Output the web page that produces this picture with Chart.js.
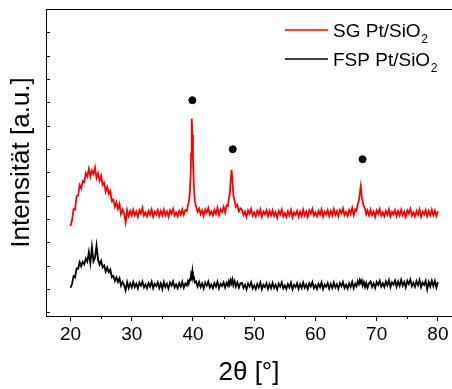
<!DOCTYPE html>
<html><head><meta charset="utf-8">
<script src="https://cdn.jsdelivr.net/npm/chart.js@4/dist/chart.umd.min.js"></script>
<style>html,body{margin:0;padding:0;background:#fff;}</style>
</head><body>
<canvas id="c" width="452" height="389"></canvas>
<script>
const twoTheta = [
 // 20 - 39
 20,20.25,20.5,20.75,21,21.25,21.5,21.75,22,22.25,22.5,22.75,23,23.25,23.5,23.75,24,24.25,24.5,24.75,
 25,25.25,25.5,25.75,26,26.25,26.5,26.75,27,27.25,27.5,27.75,28,28.25,28.5,28.75,29,
 29.25,29.5,29.75,30,30.25,30.5,30.75,31,31.25,31.5,31.75,32,32.25,32.5,32.75,33,33.25,33.5,33.75,34,
 34.25,34.5,34.75,35,35.25,35.5,35.75,36,36.25,36.5,36.75,37,37.25,37.5,37.75,38,38.25,38.5,38.75,39,
 // Pt(111)
 39.15,39.3,39.45,39.6,39.7,39.8,39.9,40,40.15,40.3,40.5,40.75,
 // 41 - 45.5
 41,41.25,41.5,41.75,42,42.25,42.5,42.75,43,43.25,43.5,43.75,44,44.25,44.5,44.75,45,45.25,45.5,
 // Pt(200)
 45.7,45.85,46,46.15,46.3,46.45,46.6,46.8,47,47.25,47.5,47.75,
 // 48 - 66.5
 48,48.25,48.5,48.75,49,49.25,49.5,49.75,50,50.25,50.5,50.75,51,51.25,51.5,51.75,52,52.25,52.5,52.75,
 53,53.25,53.5,53.75,54,54.25,54.5,54.75,55,55.25,55.5,55.75,56,56.25,56.5,56.75,57,57.25,57.5,57.75,
 58,58.25,58.5,58.75,59,59.25,59.5,59.75,60,60.25,60.5,60.75,61,61.25,61.5,61.75,62,62.25,62.5,62.75,
 63,63.25,63.5,63.75,64,64.25,64.5,64.75,65,65.25,65.5,65.75,66,66.25,66.5,
 // Pt(220)
 66.7,66.9,67.1,67.25,67.4,67.55,67.7,67.9,68.1,68.3,68.5,68.75,
 // 69 - 80
 69,69.25,69.5,69.75,70,70.25,70.5,70.75,71,71.25,71.5,71.75,72,72.25,72.5,72.75,73,73.25,73.5,73.75,
 74,74.25,74.5,74.75,75,75.25,75.5,75.75,76,76.25,76.5,76.75,77,77.25,77.5,77.75,78,78.25,78.5,78.75,
 79,79.25,79.5,79.75,80
];
const sgPtSiO2 = [
 3.70,3.93,4.42,4.40,4.98,5.01,5.45,5.31,5.62,5.57,5.96,5.82,6.15,5.81,6.08,5.93,6.21,5.75,5.95,5.64,
 5.85,5.46,5.55,5.16,5.37,5.08,5.20,4.76,4.82,4.52,4.72,4.43,4.64,4.21,4.41,4.23,3.85,
 4.38,4.12,4.34,4.15,4.40,4.16,4.32,4.09,4.37,4.23,4.48,4.14,4.28,4.11,4.35,4.18,4.41,4.10,4.31,4.20,
 4.38,4.12,4.34,4.15,4.40,4.16,4.32,4.09,4.37,4.23,4.43,4.14,4.28,4.11,4.35,4.18,4.41,4.18,4.38,4.34,
 4.55,4.70,5.00,5.70,6.80,8.30,7.60,6.60,5.40,4.75,4.55,4.30,
 4.44,4.20,4.36,4.13,4.41,4.27,4.47,4.18,4.32,4.15,4.39,4.22,4.48,4.17,4.41,4.30,4.52,4.28,4.58,
 4.55,4.85,5.05,5.60,6.10,5.65,5.00,4.80,4.52,4.60,4.32,4.45,
 4.40,4.16,4.32,4.09,4.37,4.23,4.43,4.14,4.28,4.11,4.35,4.18,4.41,4.10,4.31,4.20,4.38,4.12,4.34,4.15,
 4.37,4.13,4.29,4.06,4.34,4.20,4.40,4.11,4.25,4.08,4.32,4.15,4.38,4.07,4.28,4.17,4.35,4.09,4.31,4.12,
 4.40,4.16,4.32,4.09,4.37,4.23,4.43,4.14,4.28,4.11,4.35,4.18,4.41,4.10,4.31,4.20,4.38,4.12,4.34,4.15,
 4.42,4.18,4.34,4.11,4.39,4.25,4.45,4.16,4.30,4.13,4.39,4.22,4.47,4.16,4.41,
 4.35,4.62,4.80,5.10,5.40,5.00,4.75,4.55,4.45,4.20,4.36,4.15,
 4.40,4.16,4.32,4.09,4.37,4.23,4.43,4.14,4.28,4.11,4.35,4.18,4.41,4.10,4.31,4.20,4.38,4.12,4.34,4.15,
 4.40,4.16,4.32,4.09,4.37,4.23,4.43,4.14,4.28,4.11,4.35,4.18,4.41,4.10,4.31,4.20,4.38,4.12,4.34,4.15,
 4.40,4.16,4.36,4.12,4.33
];
const fspPtSiO2 = [
 1.05,1.21,1.55,1.50,1.88,1.87,2.15,1.97,2.16,2.05,2.30,2.17,2.58,2.11,2.80,2.19,2.34,2.86,2.25,2.04,
 2.21,1.93,2.01,1.74,1.92,1.72,1.83,1.50,1.56,1.34,1.50,1.30,1.46,1.14,1.30,1.17,0.94,
 1.29,1.04,1.24,1.07,1.30,1.08,1.22,1.02,1.27,1.14,1.32,1.06,1.19,1.03,1.25,1.10,1.31,1.03,1.22,1.12,
 1.28,1.04,1.24,0.99,1.30,1.08,1.22,1.02,1.27,1.14,1.32,1.06,1.19,1.03,1.25,1.10,1.31,1.05,1.23,1.15,
 1.32,1.22,1.40,1.38,1.62,1.52,1.75,1.45,1.50,1.28,1.32,1.10,
 1.30,1.08,1.24,1.02,1.27,1.14,1.32,1.06,1.19,1.03,1.25,1.10,1.31,1.03,1.22,1.12,1.28,1.06,1.26,
 1.14,1.32,1.18,1.38,1.24,1.40,1.16,1.33,1.10,1.28,1.06,1.24,
 1.26,1.04,1.18,0.98,1.23,1.10,1.28,1.02,1.15,0.99,1.21,1.06,1.27,0.99,1.18,1.08,1.24,1.00,1.20,1.03,
 1.26,1.04,1.18,0.98,1.23,1.10,1.28,1.02,1.15,0.99,1.21,1.06,1.27,0.99,1.18,1.08,1.24,1.00,1.20,1.03,
 1.27,1.05,1.19,0.99,1.24,1.11,1.29,1.03,1.16,1.00,1.22,1.07,1.28,1.00,1.19,1.09,1.25,1.01,1.21,1.04,
 1.28,1.06,1.20,1.00,1.25,1.12,1.30,1.04,1.18,1.02,1.24,1.09,1.30,1.03,1.22,
 1.12,1.33,1.20,1.38,1.26,1.36,1.14,1.30,1.08,1.26,1.05,1.24,
 1.32,1.08,1.24,1.04,1.30,1.17,1.35,1.10,1.24,1.08,1.32,1.15,1.38,1.08,1.28,1.18,1.36,1.10,1.32,1.13,
 1.39,1.14,1.30,1.07,1.35,1.21,1.41,1.12,1.26,1.09,1.33,1.16,1.38,1.07,1.28,1.17,1.35,0.98,1.30,1.10,
 1.36,1.12,1.34,1.06,1.30
];
const peakMarkX = [39.9, 46.5, 67.7];
const peakMarkY = [9.09, 6.99, 6.56];
const xMajorTicks = [20, 30, 40, 50, 60, 70, 80];
const xMinorTicks = [25, 35, 45, 55, 65, 75];
const yTicks = [0,1,2,3,4,5,6,7,8,9,10,11,12];
const seriesLabels = ['SG Pt/SiO', 'FSP Pt/SiO'];
const seriesSub = ['2', '2'];
const xTitle = '2θ [°]';
const yTitle = 'Intensität [a.u.]';

const FONT = '"Liberation Sans", Arial, sans-serif';
const toPts = ys => twoTheta.map((x, i) => ({x: x, y: ys[i]}));

const framePlugin = {
  id: 'frame',
  afterDraw(chart) {
    const ctx = chart.ctx, a = chart.chartArea;
    const xs = chart.scales.x, ys = chart.scales.y;
    ctx.save();
    ctx.strokeStyle = '#000';
    ctx.lineWidth = 1;
    ctx.beginPath();
    ctx.moveTo(a.left, a.top + 0.5); ctx.lineTo(a.right, a.top + 0.5);
    yTicks.forEach(v => {
      const p = Math.round(ys.getPixelForValue(v)) + 0.5;
      ctx.moveTo(a.left, p); ctx.lineTo(a.left + 4, p);
    });
    xMinorTicks.forEach(v => {
      const p = Math.round(xs.getPixelForValue(v)) + 0.5;
      ctx.moveTo(p, a.bottom); ctx.lineTo(p, a.bottom + 3);
    });
    ctx.stroke();
    const ds = chart.data.datasets;
    const rows = [30, 59];
    rows.forEach((yy, i) => {
      ctx.strokeStyle = ds[i].borderColor;
      ctx.lineWidth = 1.5;
      ctx.beginPath(); ctx.moveTo(285, yy); ctx.lineTo(328, yy); ctx.stroke();
      ctx.fillStyle = '#000';
      ctx.font = '19px ' + FONT;
      ctx.textBaseline = 'alphabetic';
      ctx.fillText(seriesLabels[i], 333, yy + 7);
      const w = ctx.measureText(seriesLabels[i]).width;
      ctx.font = '12px ' + FONT;
      ctx.fillText(seriesSub[i], 333 + w + 0.5, yy + 13);
    });
    ctx.restore();
  }
};

new Chart(document.getElementById('c'), {
  type: 'line',
  data: {
    datasets: [
      {label: seriesLabels[0] + seriesSub[0], data: toPts(sgPtSiO2), borderColor: '#ff0000', borderWidth: 1.8, pointRadius: 0, tension: 0, fill: false},
      {label: seriesLabels[1] + seriesSub[1], data: toPts(fspPtSiO2), borderColor: '#000000', borderWidth: 1.8, pointRadius: 0, tension: 0, fill: false},
      {type: 'scatter', label: 'Pt', data: peakMarkX.map((x, i) => ({x: x, y: peakMarkY[i]})), backgroundColor: '#000', borderColor: '#000', pointRadius: 3.5, showLine: false}
    ]
  },
  options: {
    responsive: false,
    animation: false,
    devicePixelRatio: 1,
    layout: {autoPadding: false, padding: {top: 9, right: 0, left: 0, bottom: 0}},
    plugins: {legend: {display: false}, tooltip: {enabled: false}},
    scales: {
      x: {
        type: 'linear', position: 'bottom', min: 16, max: 82.3,
        afterBuildTicks: s => { s.ticks = xMajorTicks.map(v => ({value: v})); },
        afterFit: s => { s.height = 73; s.paddingLeft = 0; s.paddingRight = 0; },
        ticks: {font: {size: 19, family: FONT}, color: '#000', padding: 2, maxRotation: 0, autoSkip: false},
        grid: {drawOnChartArea: false, drawTicks: true, tickLength: 5, tickColor: '#000', lineWidth: 1},
        border: {display: true, color: '#000', width: 1},
        title: {display: true, text: xTitle, color: '#000', font: {size: 26, family: FONT}, padding: {top: 0, bottom: 1}}
      },
      y: {
        type: 'linear', position: 'left', min: -0.16, max: 13.0,
        afterBuildTicks: s => { s.ticks = yTicks.map(v => ({value: v})); },
        afterFit: s => { s.width = 46; s.paddingTop = 0; s.paddingBottom = 0; },
        ticks: {display: false},
        grid: {drawOnChartArea: false, drawTicks: false},
        border: {display: true, color: '#000', width: 1},
        title: {display: true, text: yTitle, color: '#000', font: {size: 26, family: FONT}, padding: {top: 6, bottom: 0}}
      }
    }
  },
  plugins: [framePlugin]
});
</script>
</body></html>
